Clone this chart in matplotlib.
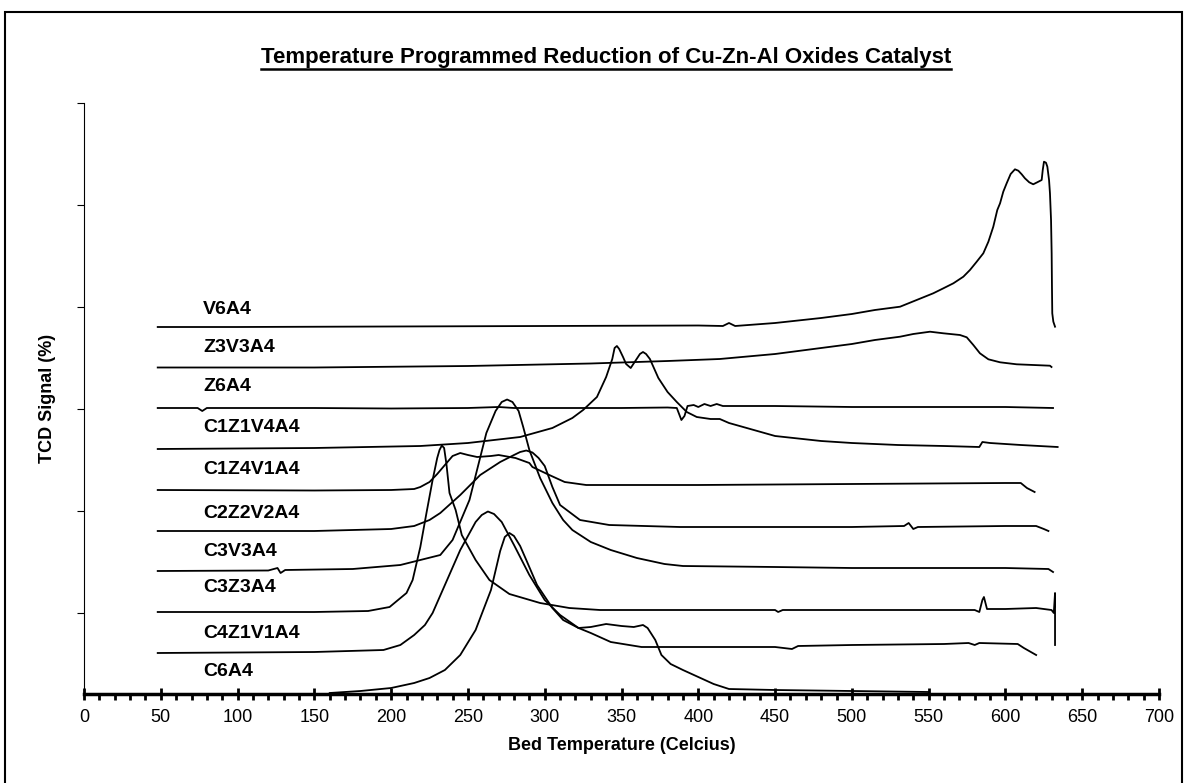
import matplotlib
matplotlib.use("Agg")
import matplotlib.pyplot as plt
from matplotlib.lines import Line2D
from matplotlib.patches import Rectangle
from matplotlib.ticker import MultipleLocator

plt.rcParams['font.family'] = ['Liberation Sans', 'DejaVu Sans']

# TPR traces: bed temperature (C) and TCD signal (arbitrary units, stacked offsets)
v6a4_t = [48, 100, 200, 300, 400, 416, 420, 424, 450, 480, 500, 515, 531.4, 542.2, 553, 559.6, 566.1, 572.6,
          576.9, 581.3, 585.6, 588.9, 592.1, 594.7, 596.5, 598.6, 600.8, 603.4, 606.2, 608.4, 610.6, 612.7,
          615.5, 618.1, 620.7, 623.6, 624.3, 625.1, 626.4, 627.3, 628.4, 629, 629.7, 630.1, 630.3, 630.5,
          631.2, 632.3]
v6a4_s = [367, 367, 367.5, 368, 368.5, 368, 371, 368, 371, 376, 380, 384, 387.3, 394, 400.7, 405.7, 410.7, 417.3,
          424, 432.3, 440.7, 452.3, 467.3, 484, 490.7, 502.3, 510.7, 520, 524.7, 523.3, 519.7, 515.7,
          511.7, 509.7, 511.7, 514, 524, 532.3, 531.3, 527.3, 514, 500.7, 474, 440.7, 407.3, 380.7,
          372.3, 367.3]

z3v3a4_t = [48, 150, 250, 330, 380, 414, 450, 480, 500, 515, 531.4, 540, 550.9, 559.6, 570.4, 574.8, 579.1,
            583.4, 588.9, 596.5, 607.3, 629, 630]
z3v3a4_s = [326.5, 326.5, 328, 330.5, 333, 335, 340, 346, 350, 354, 357.3, 360, 362.3, 360.7, 359, 356.7, 349,
            340.7, 334.7, 331.7, 329.7, 328.3, 327]

z6a4_t = [48, 74, 77, 80, 150, 200, 250, 270, 280, 300, 350, 380, 386, 389, 391, 393, 397, 400, 404,
          408, 412, 416, 450, 500, 550, 600, 631]
z6a4_s = [286, 286, 283, 286, 286, 285.5, 286, 287, 286, 286, 286, 286.5, 286, 274, 278, 288, 289, 287, 290,
          288, 290, 288, 288, 287, 287, 287, 286]

c1z1v4a4_t = [48, 150, 219, 250, 284, 305, 318, 325, 334, 340, 344, 345.5, 347, 348.5, 351, 353, 356, 359,
              362, 364, 366, 368.5, 374, 380, 386, 392.5, 399, 408, 414, 420, 450, 480, 500, 530, 560, 583,
              585, 590, 610, 634]
c1z1v4a4_s = [245, 246, 248, 251, 257, 266, 276, 284, 297, 317, 335, 346, 348, 345, 337, 330, 326, 333,
              340, 342, 340, 335, 316, 302, 292, 282, 277, 275, 275, 271, 258, 253, 251, 249, 248, 247,
              252, 251, 249, 247]

c1z4v1a4_t = [48, 150, 200, 215, 219, 225, 230, 235, 240, 245, 250, 256, 265, 270, 281, 290, 292, 303,
              313, 327, 400, 500, 600, 610, 614, 619]
c1z4v1a4_s = [204, 203.5, 204, 205, 207, 212, 220, 229, 238, 241, 239, 237, 238, 239, 236, 231, 227, 219,
              212, 209, 209, 210, 211, 211, 206, 202]

c2z2v2a4_t = [48, 150, 200, 215, 225, 232, 245, 258, 271, 280, 284, 288, 292, 296, 300, 305, 310, 323,
              342, 388, 500, 534, 537, 540, 543, 600, 620, 625, 628]
c2z2v2a4_s = [163, 163, 165, 168, 174, 181, 199, 219, 232, 239, 242, 243.5, 241.5, 236, 228, 207, 189, 174,
              169, 167, 167, 168, 171, 165, 167, 168, 168, 165, 163]

c3v3a4_t = [48, 120, 126, 128, 131, 175, 206, 232, 240, 251, 262, 268, 272, 275.5, 279, 283, 286, 290,
            297, 305, 312, 318, 330, 343, 360, 378, 390, 450, 500, 600, 628, 631]
c3v3a4_s = [123, 123.5, 126, 121, 124, 125, 129, 139, 154, 194, 261, 283, 292, 294.5, 292, 283, 267, 244,
            216, 191, 174, 164, 152, 144, 136, 130, 128, 127, 126, 126, 125, 122]

c3z3a4_t = [48, 150, 185, 199, 210, 214, 219, 223, 227, 230, 231.5, 233, 234.5, 236, 238, 242, 246, 255,
            264, 277, 297, 316, 336, 450, 452, 455, 580, 583, 585, 586, 588, 600, 620, 630, 631.5, 632.3,
            632.3]
c3z3a4_s = [82, 82, 83, 87, 101, 114, 147, 181, 214, 236, 244, 248.5, 246, 230, 201, 184, 159, 134,
            114, 100, 91, 86, 84, 84, 82, 84, 84, 82, 94, 97, 85, 85, 86, 84, 81, 101,
            49]

c4z1v1a4_t = [48, 150, 195, 206, 215, 222, 227, 235, 245, 255, 259, 263, 267, 272, 280, 290, 300, 310,
              322, 330, 343, 363, 390, 450, 461, 465, 500, 560, 576, 580, 583, 608, 612, 620]
c4z1v1a4_s = [41, 42, 44, 49, 59, 69, 81, 109, 144, 172, 179, 182.5, 180, 172, 149, 119, 94, 79,
              66, 61, 52, 47, 47, 47, 45, 48, 49, 50, 51, 49, 51, 50, 46, 39]

c6a4_t = [160, 180, 200, 215, 225, 235, 245, 255, 265, 271, 274, 277, 280, 284, 288, 295, 305, 312, 322,
          330, 340, 350, 358, 364, 367, 372, 376, 382, 390, 400, 410, 420, 450, 500, 550]
c6a4_s = [1, 3, 6, 11, 16, 24, 39, 64, 104, 143, 157, 161, 158, 148, 134, 109, 86, 74, 66,
          67, 70, 68, 67, 69, 66, 54, 39, 30, 24, 17, 10, 5, 4, 3, 2]

labels = ["V6A4", "Z3V3A4", "Z6A4", "C1Z1V4A4", "C1Z4V1A4", "C2Z2V2A4", "C3V3A4", "C3Z3A4", "C4Z1V1A4", "C6A4"]
label_s = [384, 346, 307, 266, 224, 180, 142, 106, 61, 22]
label_t = 77.5

series = [(v6a4_t, v6a4_s), (z3v3a4_t, z3v3a4_s), (z6a4_t, z6a4_s), (c1z1v4a4_t, c1z1v4a4_s),
          (c1z4v1a4_t, c1z4v1a4_s), (c2z2v2a4_t, c2z2v2a4_s), (c3v3a4_t, c3v3a4_s),
          (c3z3a4_t, c3z3a4_s), (c4z1v1a4_t, c4z1v1a4_s), (c6a4_t, c6a4_s)]

W, H = 1186, 783
fig = plt.figure(figsize=(W / 100, H / 100), dpi=100)
ax = fig.add_axes([84 / W, (H - 694) / H, (1159 - 84) / W, (694 - 103) / H])

for t, s in series:
    ax.plot(t, s, color="black", lw=1.3, solid_joinstyle="round")

for name, ls in zip(labels, label_s):
    ax.text(label_t, ls, name, fontsize=14, fontweight="bold", va="center", ha="left")

ax.set_xlim(0, 700)
ax.set_ylim(0, 591)
ax.xaxis.set_major_locator(MultipleLocator(50))
ax.xaxis.set_minor_locator(MultipleLocator(10))
ax.set_yticks([591 - 102 * k for k in range(6)])
ax.set_yticklabels([])
ax.tick_params(axis="x", which="major", direction="inout", length=9, width=2, labelsize=13, pad=6)
ax.tick_params(axis="x", which="minor", direction="out", length=4, width=2)
ax.tick_params(axis="y", direction="out", length=5, width=0.8)
for side in ("top", "right"):
    ax.spines[side].set_visible(False)
ax.spines["bottom"].set_linewidth(2.5)
ax.spines["left"].set_linewidth(0.8)

ax.set_xlabel("Bed Temperature (Celcius)", fontsize=13, fontweight="bold", labelpad=8)
ax.set_ylabel("TCD Signal (%)", fontsize=13, fontweight="bold", labelpad=12)

title = fig.text(606 / W, 1 - 57 / H, "Temperature Programmed Reduction of Cu-Zn-Al Oxides Catalyst",
                 fontsize=16, fontweight="bold", ha="center", va="center")

# outer frame of the chart
fig.add_artist(Rectangle((5 / W, -0.01), (1182 - 5) / W, 1 - 12 / H + 0.01, transform=fig.transFigure,
                         fill=False, lw=1.5, edgecolor="black"))

# underline the title
fig.canvas.draw()
bb = title.get_window_extent().transformed(fig.transFigure.inverted())
fig.add_artist(Line2D([bb.x0, bb.x1], [bb.y0 - 0.002, bb.y0 - 0.002], transform=fig.transFigure,
                      color="black", lw=1.8))

fig.savefig("out.png", dpi=100)
